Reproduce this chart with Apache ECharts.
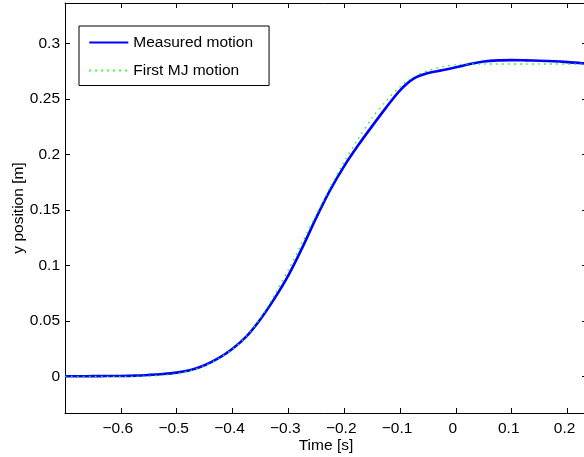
<!DOCTYPE html>
<html>
<head>
<meta charset="utf-8">
<script src="https://cdn.jsdelivr.net/npm/echarts@6/dist/echarts.min.js"></script>
<style>html,body{margin:0;padding:0;background:#fff}#c{width:584px;height:457px}</style>
</head>
<body>
<div id="c"></div>
<script>
var timeValues = [-0.7, -0.675, -0.65, -0.625, -0.6, -0.575, -0.55, -0.525, -0.5, -0.475, -0.45, -0.425, -0.4, -0.375, -0.35, -0.325, -0.3, -0.275, -0.25, -0.225, -0.2, -0.175, -0.15, -0.125, -0.1, -0.075, -0.05, -0.025, 0, 0.025, 0.05, 0.075, 0.1, 0.125, 0.15, 0.175, 0.2, 0.225, 0.25];
var measuredMotion = [0, 0, 0.0001, 0.0002, 0.0003, 0.0006, 0.0012, 0.002, 0.0033, 0.0057, 0.0100, 0.0163, 0.0248, 0.0360, 0.0515, 0.070, 0.091, 0.116, 0.143, 0.168, 0.1895, 0.2082, 0.2255, 0.2422, 0.2578, 0.2685, 0.2733, 0.2758, 0.2785, 0.2815, 0.2838, 0.2848, 0.2850, 0.2848, 0.2845, 0.2840, 0.2832, 0.2822, 0.2815];
var firstMJMotion = [0, 0, 0, 0, 0, 0, 0.0002, 0.0009, 0.0025, 0.0052, 0.0095, 0.0160, 0.0245, 0.0360, 0.0525, 0.0730, 0.0960, 0.1209, 0.1457, 0.1704, 0.1935, 0.214, 0.233, 0.248, 0.261, 0.270, 0.2755, 0.279, 0.2808, 0.2815, 0.2815, 0.2815, 0.2815, 0.2815, 0.2815, 0.2815, 0.2815, 0.2815, 0.2815];
var xTicks = [-0.6, -0.5, -0.4, -0.3, -0.2, -0.1, 0, 0.1, 0.2];
var yTicks = [0, 0.05, 0.1, 0.15, 0.2, 0.25, 0.3];
var seriesNames = ['Measured motion', 'First MJ motion'];

function pairs(xs, ys) { return xs.map(function (x, i) { return [x, ys[i]]; }); }
function fmt(v) { var s = String(+(+v).toFixed(3)); return s.replace('-', '\u2212'); }

var FONT = 'Liberation Sans, Arial, sans-serif';
var FS = 15.5;
var xMin = -0.7, xMax = 0.2348, yMin = -0.0331, yMax = 0.3365;

function xAx(pos, show) {
  return {
    type: 'value', position: pos, min: xMin, max: xMax,
    axisLine: { show: true, onZero: false, lineStyle: { color: '#000', width: 1 } },
    axisTick: { show: true, inside: true, length: 5, customValues: xTicks, lineStyle: { color: '#000' } },
    axisLabel: { show: show, customValues: xTicks, formatter: fmt, color: '#000', fontSize: FS, fontFamily: FONT, margin: 8, padding: [0, 6, 0, 0] },
    splitLine: { show: false },
    name: show ? 'Time [s]' : '', nameLocation: 'middle', nameGap: 25, nameMoveOverlap: false,
    nameTextStyle: { color: '#000', fontSize: FS, fontFamily: FONT }
  };
}
function yAx(pos, show) {
  return {
    type: 'value', position: pos, min: yMin, max: yMax,
    axisLine: { show: true, onZero: false, lineStyle: { color: '#000', width: 1 } },
    axisTick: { show: true, inside: true, length: 5, customValues: yTicks, lineStyle: { color: '#000' } },
    axisLabel: { show: show, customValues: yTicks, formatter: fmt, color: '#000', fontSize: FS, fontFamily: FONT, margin: 5 },
    splitLine: { show: false },
    name: show ? 'y position [m]' : '', nameLocation: 'middle', nameGap: 38, nameRotate: 90, nameMoveOverlap: false,
    nameTextStyle: { color: '#000', fontSize: FS, fontFamily: FONT }
  };
}

var chart = echarts.init(document.getElementById('c'), null, { renderer: 'canvas' });
chart.setOption({
  backgroundColor: '#fff',
  animation: false,
  grid: { left: 65, top: 3, width: 522, height: 410, containLabel: false, outerBoundsMode: 'none' },
  xAxis: [xAx('bottom', true), xAx('top', false)],
  yAxis: [yAx('left', true), yAx('right', false)],
  legend: {
    orient: 'vertical', left: 79, top: 26,
    padding: [8.5, 16, 7, 9.3],
    itemWidth: 39, itemHeight: 14, itemGap: 12,
    backgroundColor: '#fff', borderColor: '#000', borderWidth: 1, borderRadius: 0,
    itemStyle: { opacity: 0 },
    textStyle: { color: '#000', fontSize: FS, fontFamily: FONT },
    data: seriesNames
  },
  series: [
    { name: seriesNames[0], type: 'line', data: pairs(timeValues, measuredMotion), symbol: 'none', smooth: 0.3, clip: true,
      lineStyle: { color: '#0000ff', width: 2.6 }, itemStyle: { color: '#0000ff' } },
    { name: seriesNames[1], type: 'line', data: pairs(timeValues, firstMJMotion), symbol: 'none', smooth: 0.3, clip: true,
      lineStyle: { color: '#00ff00', width: 1.3, type: [1.5, 4.5] }, itemStyle: { color: '#00ff00' } }
  ]
});
</script>
</body>
</html>
